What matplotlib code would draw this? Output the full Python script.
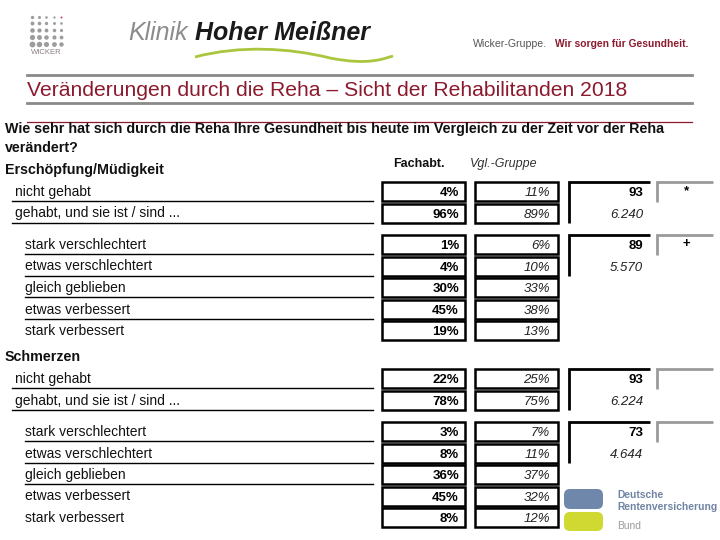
import matplotlib
matplotlib.use("Agg")
import matplotlib.pyplot as plt
from matplotlib.patches import Rectangle, FancyBboxPatch, PathPatch
from matplotlib.path import Path

plt.rcParams['font.family'] = ['Liberation Sans', 'DejaVu Sans']

# ---------------- data ----------------
title = "Veränderungen durch die Reha – Sicht der Rehabilitanden 2018"
question = ["Wie sehr hat sich durch die Reha Ihre Gesundheit bis heute im Vergleich zu der Zeit vor der Reha",
            "verändert?"]
col_headers = ["Fachabt.", "Vgl.-Gruppe"]

top_categories = ["nicht gehabt", "gehabt, und sie ist / sind ..."]
change_categories = ["stark verschlechtert", "etwas verschlechtert", "gleich geblieben",
                     "etwas verbessert", "stark verbessert"]

sections = ["Erschöpfung/Müdigkeit", "Schmerzen"]

fach_top = [[4, 96], [22, 78]]
vgl_top = [[11, 89], [25, 75]]
fach_change = [[1, 4, 30, 45, 19], [3, 8, 36, 45, 8]]
vgl_change = [[6, 10, 33, 38, 13], [7, 11, 37, 32, 12]]

n_fach_top = [93, 93]
n_vgl_top = [6240, 6224]
n_fach_change = [89, 73]
n_vgl_change = [5570, 4644]

signif_top = ["*", ""]
signif_change = ["+", ""]

# ---------------- figure ----------------
fig = plt.figure(figsize=(7.2, 5.4), dpi=100)
ax = fig.add_axes([0, 0, 1, 1])
ax.set_xlim(0, 720)
ax.set_ylim(540, 0)
ax.axis('off')

DARKRED = '#8c1a2e'
GRAY = '#8a8a8a'

def de_num(v):
    return f"{v:,}".replace(",", ".")

# ---- header: Wicker logo dots ----
for r in range(5):
    for c in range(5):
        size = 2.4 + r * 0.45 - c * 0.25
        col = '#c4445a' if (r == 0 and c == 4) else '#9c9c9c'
        ax.plot(32 + c * 7.2, 16.5 + r * 6.8, 'o', ms=max(size, 1.2), color=col, mec='none')
ax.text(46, 53, "WICKER", fontsize=5.5, color='#8a7f82', ha='center', va='center')

# Klinik Hoher Meissner
ax.text(128, 33, "Klinik", fontsize=18, color='#8c8c8c', style='italic', va='center', ha='left')
ax.text(195, 33, "Hoher Meißner", fontsize=18, color='#1a1a1a', style='italic', weight='bold',
        va='center', ha='left')
verts = [(195, 57), (240, 45), (290, 48), (330, 58), (370, 66), (385, 58), (393, 56)]
codes = [Path.MOVETO, Path.CURVE4, Path.CURVE4, Path.CURVE4, Path.CURVE4, Path.CURVE4, Path.CURVE4]
ax.add_patch(PathPatch(Path(verts, codes), fc='none', ec='#a9c63e', lw=2.0))

ax.text(473, 44, "Wicker-Gruppe.", fontsize=7.6, color='#555555', va='center', ha='left')
ax.text(555, 44, "Wir sorgen für Gesundheit.", fontsize=7.4, color=DARKRED, weight='bold',
        va='center', ha='left')

ax.plot([27, 692], [75, 75], color=GRAY, lw=2)
ax.text(27, 90, title, fontsize=15.2, color=DARKRED, va='center', ha='left')
ax.plot([27, 692], [103, 103], color=GRAY, lw=2)
ax.plot([27, 692], [122, 122], color=DARKRED, lw=0.9)

ax.text(5, 129.5, question[0], fontsize=10.3, weight='bold', color='#111111', va='center', ha='left')
ax.text(5, 147.5, question[1], fontsize=10.3, weight='bold', color='#111111', va='center', ha='left')

ax.text(393, 164, col_headers[0], fontsize=9, weight='bold', color='#111111', va='center', ha='left')
ax.text(470, 164, col_headers[1], fontsize=9, style='italic', color='#333333', va='center', ha='left')

# ---------------- table ----------------
PITCH = 21.5
BOX_H = 19
FX0, FX1 = 382, 465
VX0, VX1 = 475, 558
section_header_y = [170, 357]
top_start = [191.5, 378.5]
underlined_change = [4, 3]
NUM_DY = 1.8

def box(x0, x1, yc):
    ax.add_patch(Rectangle((x0, yc - BOX_H / 2), x1 - x0, BOX_H, fc='white', ec='black', lw=1.8))

for s, name in enumerate(sections):
    ax.text(5, section_header_y[s], name, fontsize=10.3, weight='bold', color='#111111',
            va='center', ha='left')
    ys_top = [top_start[s] + i * PITCH for i in range(len(top_categories))]
    ys_chg = [top_start[s] + 53 + i * PITCH for i in range(len(change_categories))]

    for i, cat in enumerate(top_categories):
        y = ys_top[i]
        ax.text(15, y + 0.5, cat, fontsize=10, color='#111111', va='center', ha='left')
        ax.plot([12, 373], [y + 9.5, y + 9.5], color='black', lw=1)
        box(FX0, FX1, y)
        box(VX0, VX1, y)
        ax.text(FX1 - 6, y + NUM_DY, f"{fach_top[s][i]}%", fontsize=9.5, weight='bold', va='center', ha='right')
        ax.text(VX1 - 8, y + NUM_DY, f"{vgl_top[s][i]}%", fontsize=9.5, style='italic', color='#222222',
                va='center', ha='right')

    for i, cat in enumerate(change_categories):
        y = ys_chg[i]
        ax.text(25, y + 0.5, cat, fontsize=10, color='#111111', va='center', ha='left')
        if i < underlined_change[s]:
            ax.plot([25, 373], [y + 9.5, y + 9.5], color='black', lw=1)
        box(FX0, FX1, y)
        box(VX0, VX1, y)
        ax.text(FX1 - 6, y + NUM_DY, f"{fach_change[s][i]}%", fontsize=9.5, weight='bold', va='center', ha='right')
        ax.text(VX1 - 8, y + NUM_DY, f"{vgl_change[s][i]}%", fontsize=9.5, style='italic', color='#222222',
                va='center', ha='right')

    # N brackets
    for ys, nf, nv, sig in [(ys_top, n_fach_top[s], n_vgl_top[s], signif_top[s]),
                            (ys_chg, n_fach_change[s], n_vgl_change[s], signif_change[s])]:
        ytop = ys[0] - BOX_H / 2
        ax.plot([650, 569, 569], [ytop, ytop, ys[1] + BOX_H / 2], color='black', lw=2,
                solid_capstyle='butt', solid_joinstyle='miter')
        ax.text(643, ys[0] + NUM_DY, str(nf), fontsize=9.5, weight='bold', va='center', ha='right')
        ax.text(643, ys[1] + NUM_DY, de_num(nv), fontsize=9.5, style='italic', color='#222222',
                va='center', ha='right')
        ax.plot([713, 657, 657], [ytop, ytop, ys[0] + BOX_H / 2 + 1], color='#9a9a9a', lw=2,
                solid_capstyle='butt', solid_joinstyle='miter')
        if sig:
            ax.text(686, ys[0], sig, fontsize=9.5, weight='bold', va='center', ha='center')

# ---- DRV logo ----
ax.add_patch(FancyBboxPatch((564, 489), 39, 20, boxstyle="round,pad=0,rounding_size=6",
                            fc='#6f87aa', ec='none'))
ax.add_patch(FancyBboxPatch((564, 512), 39, 19, boxstyle="round,pad=0,rounding_size=6",
                            fc='#cfd932', ec='none'))
ax.text(617, 494.5, "Deutsche", fontsize=7.4, color='#6f83a3', weight='bold', va='center', ha='left')
ax.text(617, 506.5, "Rentenversicherung", fontsize=7.4, color='#6f83a3', weight='bold', va='center', ha='left')
ax.text(617, 526, "Bund", fontsize=7.4, color='#9a9a9a', va='center', ha='left')

fig.savefig("out.png", dpi=100)
